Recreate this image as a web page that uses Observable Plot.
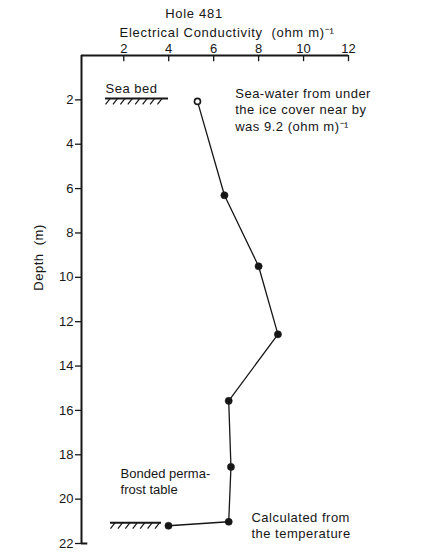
<!DOCTYPE html>
<html><head><meta charset="utf-8">
<script src="https://cdn.jsdelivr.net/npm/d3@7"></script>
<script src="https://cdn.jsdelivr.net/npm/@observablehq/plot@0.6"></script>
<style>
body{margin:0;background:#fff}
.wide text{letter-spacing:0.7px}
.mid text{letter-spacing:0.5px}
</style>
</head><body><div id="chart"></div>
<script>
// Data
const conductivity = [5.28, 6.48, 8.0, 8.86, 6.67, 6.77, 6.67, 3.99];
const depth        = [2.07, 6.3, 9.5, 12.57, 15.57, 18.55, 21.02, 21.2];
const marker       = ["open", "solid", "solid", "solid", "solid", "solid", "solid", "solid"];
const xTicks = [2, 4, 6, 8, 10, 12];
const yTicks = [2, 4, 6, 8, 10, 12, 14, 16, 18, 20, 22];
const titleText = "Hole 481";
const xLabel = "Electrical Conductivity  (ohm m)⁻¹";
const yLabel = "Depth  (m)";
const seaBedLabel = "Sea bed";
const seaWaterNote = ["Sea-water from under", "the ice cover near by", "was 9.2 (ohm m)⁻¹"];
const permafrostNote = ["Bonded perma-", "frost table"];
const calcNote = ["Calculated from", "the temperature"];
// ground lines (conductivity extent, depth)
const seaBed = [{x1: 1.19, x2: 3.99, y: 1.94}];
const permafrost = [{x1: 1.41, x2: 3.68, y: 21.07}];

const data = conductivity.map((c, i) => ({c, d: depth[i], m: marker[i]}));
const xMin = 0.12;

function hatches(g) {
  return d3.range(g.x1 + 0.2, g.x2, 0.33).map(x => ({x1: x, y1: g.y, x2: x - 0.2, y2: g.y + 0.26}));
}
const hatchData = [...hatches(seaBed[0]), ...hatches(permafrost[0])];

const ink = "#161616";
const chart = Plot.plot({
  width: 438, height: 555,
  marginTop: 55, marginLeft: 81, marginRight: 90, marginBottom: 12,
  style: {fontFamily: "'Liberation Sans', Arial, sans-serif", fontSize: "13px", color: ink, background: "white", overflow: "visible"},
  x: {domain: [xMin, 12]},
  y: {domain: [0, 22], reverse: true},
  marks: [
    Plot.axisX(xTicks, {anchor: "top", tickSize: 0, tickPadding: 3, label: null, fontSize: 13}),
    Plot.ruleX(xTicks, {y1: 0, y2: 0.28, stroke: ink, strokeWidth: 1.3}),
    Plot.axisY(yTicks, {anchor: "left", tickSize: 6, tickPadding: 2, label: null, fontSize: 13, strokeWidth: 1.3}),
    Plot.ruleY([0], {stroke: ink, strokeWidth: 2}),
    Plot.ruleX([xMin], {stroke: ink, strokeWidth: 2}),
    Plot.ruleY([22], {x1: xMin, x2: xMin + 0.28, stroke: ink, strokeWidth: 2}),
    Plot.ruleY(seaBed, {x1: "x1", x2: "x2", y: "y", stroke: ink, strokeWidth: 2}),
    Plot.ruleY(permafrost, {x1: "x1", x2: "x2", y: "y", stroke: ink, strokeWidth: 2}),
    Plot.link(hatchData, {x1: "x1", y1: "y1", x2: "x2", y2: "y2", stroke: ink, strokeWidth: 1.2}),
    Plot.line(data, {x: "c", y: "d", stroke: ink, strokeWidth: 1.3}),
    Plot.dot(data.filter(d => d.m === "solid"), {x: "c", y: "d", r: 3.6, fill: ink, stroke: ink, strokeWidth: 0.5}),
    Plot.dot(data.filter(d => d.m === "open"), {x: "c", y: "d", r: 3, fill: "white", stroke: ink, strokeWidth: 1.6}),
    Plot.text([titleText], {text: d => d, frameAnchor: "top", lineAnchor: "middle", dx: -21, dy: -41.5, fontSize: 13, className: "wide"}),
    Plot.text([xLabel], {text: d => d, frameAnchor: "top", lineAnchor: "middle", dx: 12, dy: -23, fontSize: 13, className: "wide"}),
    Plot.text([yLabel], {text: d => d, y: [10.6], frameAnchor: "left", dx: -43, rotate: -90, fontSize: 13, className: "mid"}),
    Plot.text([seaBedLabel], {text: d => d, x: [1.19], y: [1.67], textAnchor: "start", lineAnchor: "bottom", fontSize: 13, className: "mid"}),
    Plot.text([seaWaterNote.join("\n")], {text: d => d, x: [6.96], y: [2.41], textAnchor: "start", lineAnchor: "middle", lineHeight: 1.27, fontSize: 13, className: "mid"}),
    Plot.text([permafrostNote.join("\n")], {text: d => d, x: [1.86], y: [19.17], textAnchor: "start", lineAnchor: "middle", lineHeight: 1.25, fontSize: 13}),
    Plot.text([calcNote.join("\n")], {text: d => d, x: [7.68], y: [21.16], textAnchor: "start", lineAnchor: "middle", lineHeight: 1.2, fontSize: 13, className: "mid"})
  ]
});
document.getElementById("chart").appendChild(chart);
</script>
</body></html>
